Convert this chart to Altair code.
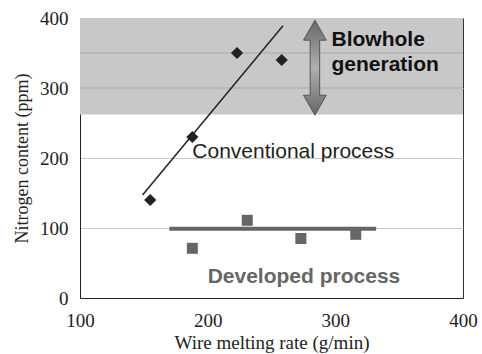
import altair as alt
import pandas as pd

# Data
conv_x = [155, 188, 223, 258]
conv_y = [140, 230, 350, 340]
conv_fit_x = [149, 259]
conv_fit_y = [147, 389]
dev_x = [188, 231, 273, 316]
dev_y = [71, 111, 85, 91]
dev_fit_x = [170, 332]
dev_fit_y = [99, 99]
band_range = [262, 400]
x_domain = [100, 400]
y_domain = [0, 400]
y_ticks = [0, 50, 100, 150, 200, 250, 300, 350, 400]
x_ticks = [100, 200, 300, 400]

labels_text = ["Conventional process", "Developed process"]
labels_x = [188, 200]
labels_y = [209, 30]
blow_text = ["Blowhole", "generation"]
blow_x = [297, 297]
blow_y = [369, 333]
arrow_x = [284]
arrow_y = [329]

SERIF = "Liberation Serif"
SANS = "Liberation Sans"

xs = alt.Scale(domain=x_domain, nice=False)
ys = alt.Scale(domain=y_domain, nice=False)

band_df = pd.DataFrame({"x": [x_domain[0]], "x2": [x_domain[1]], "y": [band_range[0]], "y2": [band_range[1]]})
band = alt.Chart(band_df).mark_rect(color="#c8c8c8").encode(
    x=alt.X("x:Q", scale=xs,
            axis=alt.Axis(title="Wire melting rate (g/min)", values=x_ticks, grid=False, ticks=False,
                          labelPadding=13, labelFlush=False, labelFont=SERIF, labelFontSize=19,
                          titleFont=SERIF, titleFontSize=19, titleFontWeight="normal",
                          titleBaseline="alphabetic", titleY=50,
                          labelColor="#222", titleColor="#222", domainColor="#222")),
    x2="x2:Q",
    y=alt.Y("y:Q", scale=ys,
            axis=alt.Axis(title="Nitrogen content (ppm)", values=y_ticks, grid=True, gridColor="#c8c8c8",
                          ticks=False, labelPadding=12,
                          labelExpr="datum.value % 100 == 0 ? datum.label : ''",
                          labelFont=SERIF, labelFontSize=19, titleFont=SERIF, titleFontSize=18,
                          titleFontWeight="normal", titlePadding=8,
                          labelColor="#222", titleColor="#222", domainColor="#222")),
    y2="y2:Q",
)

band_grid_df = pd.DataFrame({"y": [v for v in y_ticks if band_range[0] < v < band_range[1]]})
band_grid = alt.Chart(band_grid_df).mark_rule(color="#a8a8a8", strokeWidth=1).encode(
    y=alt.Y("y:Q", scale=ys), x=alt.value(0), x2=alt.value(383)
)

conv_fit = alt.Chart(pd.DataFrame({"x": conv_fit_x, "y": conv_fit_y})).mark_line(
    color="#222", strokeWidth=1.5).encode(x=alt.X("x:Q", scale=xs), y=alt.Y("y:Q", scale=ys))
dev_fit = alt.Chart(pd.DataFrame({"x": dev_fit_x, "y": dev_fit_y})).mark_line(
    color="#666", strokeWidth=4).encode(x=alt.X("x:Q", scale=xs), y=alt.Y("y:Q", scale=ys))

conv_pts = alt.Chart(pd.DataFrame({"x": conv_x, "y": conv_y})).mark_point(
    shape="diamond", filled=True, color="#222", size=150, opacity=1).encode(
    x=alt.X("x:Q", scale=xs), y=alt.Y("y:Q", scale=ys))
dev_pts = alt.Chart(pd.DataFrame({"x": dev_x, "y": dev_y})).mark_point(
    shape="square", filled=True, color="#666", size=121, opacity=1).encode(
    x=alt.X("x:Q", scale=xs), y=alt.Y("y:Q", scale=ys))

lab_df = pd.DataFrame({"t": labels_text, "x": labels_x, "y": labels_y})
conv_lab = alt.Chart(lab_df.iloc[[0]]).mark_text(
    font=SANS, fontSize=21, align="left", baseline="middle", color="#222").encode(
    x=alt.X("x:Q", scale=xs), y=alt.Y("y:Q", scale=ys), text="t:N")
dev_lab = alt.Chart(lab_df.iloc[[1]]).mark_text(
    font=SANS, fontSize=21, fontWeight="bold", align="left", baseline="middle", color="#666").encode(
    x=alt.X("x:Q", scale=xs), y=alt.Y("y:Q", scale=ys), text="t:N")

blow_lab = alt.Chart(pd.DataFrame({"t": blow_text, "x": blow_x, "y": blow_y})).mark_text(
    font=SANS, fontSize=21, fontWeight="bold", align="left", baseline="middle", color="#111").encode(
    x=alt.X("x:Q", scale=xs), y=alt.Y("y:Q", scale=ys), text="t:N")

arrow_path = ("M0,-1 L0.24,-0.58 L0.1,-0.58 L0.1,0.58 L0.24,0.58 L0,1 "
              "L-0.24,0.58 L-0.1,0.58 L-0.1,-0.58 L-0.24,-0.58 Z")
arrow = alt.Chart(pd.DataFrame({"x": arrow_x, "y": arrow_y})).mark_point(
    shape=arrow_path, size=95 * 95, filled=True, opacity=1, stroke="#555", strokeWidth=1,
    fill=alt.Gradient(gradient="linear", x1=0, y1=0, x2=0, y2=1,
                      stops=[alt.GradientStop(color="#666666", offset=0),
                             alt.GradientStop(color="#b0b0b0", offset=0.5),
                             alt.GradientStop(color="#666666", offset=1)])).encode(
    x=alt.X("x:Q", scale=xs), y=alt.Y("y:Q", scale=ys))

chart = alt.layer(band, band_grid, conv_fit, dev_fit, conv_pts, dev_pts,
                  conv_lab, dev_lab, blow_lab, arrow).properties(
    width=383, height=280,
    autosize=alt.AutoSizeParams(type="none"),
    padding={"left": 80, "top": 18, "right": 19, "bottom": 56},
    background="white",
).configure_view(stroke="#333", strokeWidth=1)

chart.save("out.html", embed_options={"renderer": "svg", "actions": False})
